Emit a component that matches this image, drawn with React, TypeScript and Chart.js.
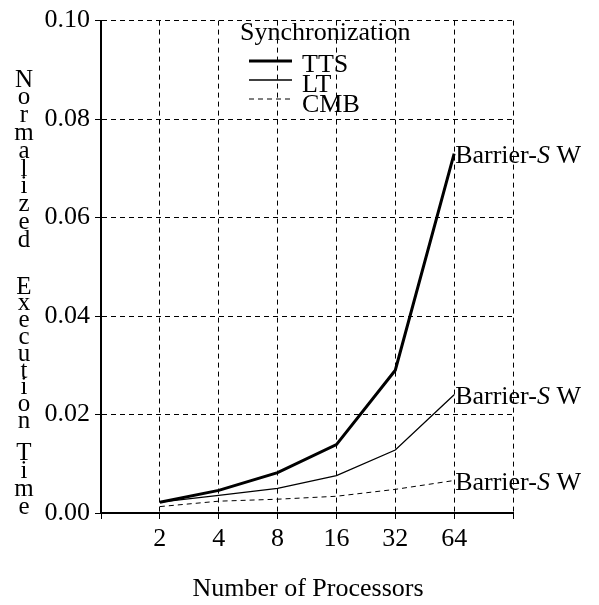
import React, { useEffect, useRef } from "react";
import { Chart, registerables } from "chart.js";

Chart.register(...registerables);

const processors = [2, 4, 8, 16, 32, 64];
const ttsValues = [0.0022, 0.0046, 0.0082, 0.0139, 0.029, 0.073];
const ltValues = [0.0022, 0.0036, 0.005, 0.0076, 0.0128, 0.024];
const cmbValues = [0.0013, 0.0024, 0.0028, 0.0034, 0.0048, 0.0066];
const yTickValues = [0, 0.02, 0.04, 0.06, 0.08, 0.1];
const seriesNames = ["TTS", "LT", "CMB"];
const legendTitle = "Synchronization";
const endLabelParts = ["Barrier-", "S", " W"];
const xTitle = "Number of Processors";
const yTitleWords = ["Normalized", "Execution", "Time"];

const FONT = "'Liberation Serif', 'Times New Roman', serif";

const textPlugin = {
  id: "customText",
  afterDraw(chart: any) {
    const ctx = chart.ctx;
    ctx.save();
    ctx.fillStyle = "#000";
    ctx.strokeStyle = "#000";

    // End labels
    chart.data.datasets.forEach((ds: any, i: number) => {
      const meta = chart.getDatasetMeta(i);
      const pt = meta.data[meta.data.length - 1];
      if (!pt) return;
      let x = pt.x + 1;
      const y = pt.y + 9;
      ctx.textAlign = "left";
      ctx.textBaseline = "alphabetic";
      endLabelParts.forEach((part, k) => {
        ctx.font = (k === 1 ? "italic " : "") + "26px " + FONT;
        ctx.fillText(part, x, y);
        x += ctx.measureText(part).width;
      });
    });

    // Legend
    ctx.font = "26px " + FONT;
    ctx.textAlign = "left";
    ctx.textBaseline = "alphabetic";
    ctx.fillText(legendTitle, 240, 40);
    const lineYs = [61, 80, 99];
    const textYs = [72, 92, 112];
    chart.data.datasets.forEach((ds: any, i: number) => {
      ctx.beginPath();
      ctx.lineWidth = ds.borderWidth;
      ctx.setLineDash(ds.borderDash || []);
      ctx.moveTo(249, lineYs[i]);
      ctx.lineTo(292, lineYs[i]);
      ctx.stroke();
      ctx.setLineDash([]);
      ctx.fillText(seriesNames[i], 302, textYs[i]);
    });

    // X title
    ctx.textAlign = "center";
    ctx.fillText(xTitle, 308, 596);

    // Y title, stacked letters
    ctx.font = "25px " + FONT;
    ctx.textBaseline = "middle";
    const starts = [80, 287, 453];
    const steps = [17.8, 16.8, 18.3];
    yTitleWords.forEach((w, wi) => {
      [...w].forEach((ch, ci) => {
        ctx.fillText(ch, 24, starts[wi] + ci * steps[wi]);
      });
    });
    ctx.restore();
  },
};

export default function App() {
  const canvasRef = useRef<HTMLCanvasElement | null>(null);

  useEffect(() => {
    const canvas = canvasRef.current;
    if (!canvas) return;
    const toPoints = (vals: number[]) =>
      processors.map((p, i) => ({ x: Math.log2(p), y: vals[i] }));

    const chart = new Chart(canvas, {
      type: "line",
      data: {
        datasets: [
          {
            label: seriesNames[0],
            data: toPoints(ttsValues),
            borderColor: "#000",
            borderWidth: 3,
            pointRadius: 0,
            tension: 0,
          },
          {
            label: seriesNames[1],
            data: toPoints(ltValues),
            borderColor: "#000",
            borderWidth: 1.3,
            pointRadius: 0,
            tension: 0,
          },
          {
            label: seriesNames[2],
            data: toPoints(cmbValues),
            borderColor: "#000",
            borderWidth: 1,
            borderDash: [5, 4],
            pointRadius: 0,
            tension: 0,
          },
        ],
      },
      options: {
        animation: false,
        responsive: false,
        layout: { padding: { top: 10, right: 86, left: 0, bottom: 0 } },
        plugins: { legend: { display: false }, tooltip: { enabled: false } },
        scales: {
          x: {
            type: "linear",
            min: 0,
            max: processors.length + 1,
            afterBuildTicks: (scale: any) => {
              const t = [];
              for (let v = 0; v <= processors.length + 1; v++) t.push({ value: v });
              scale.ticks = t;
            },
            afterFit: (scale: any) => {
              scale.height = 92;
            },
            ticks: {
              autoSkip: false,
              maxRotation: 0,
              padding: 5,
              color: "#000",
              font: { family: FONT, size: 26 },
              callback: (v: any) => {
                const i = Number(v) - 1;
                return i >= 0 && i < processors.length ? String(processors[i]) : "";
              },
            },
            grid: {
              color: (c: any) => (c.tick && c.tick.value === 0 ? "rgba(0,0,0,0)" : "#000"),
              lineWidth: 1,
              tickLength: 6,
              tickColor: "#000",
            } as any,
            border: { display: true, color: "#000", width: 2, dash: [5, 4] as any },
          },
          y: {
            min: 0,
            max: 0.1,
            afterBuildTicks: (scale: any) => {
              scale.ticks = yTickValues.map((v) => ({ value: v }));
            },
            afterFit: (scale: any) => {
              scale.width = 101;
            },
            ticks: {
              padding: 5,
              color: "#000",
              font: { family: FONT, size: 26 },
              callback: (v: any) => Number(v).toFixed(2),
            },
            grid: {
              color: (c: any) => (c.tick && c.tick.value === 0 ? "rgba(0,0,0,0)" : "#000"),
              lineWidth: 1,
              tickLength: 6,
              tickColor: "#000",
            } as any,
            border: { display: true, color: "#000", width: 2, dash: [5, 4] as any },
          },
        },
      } as any,
      plugins: [textPlugin],
    });
    return () => chart.destroy();
  }, []);

  return (
    <div style={{ position: "absolute", left: 0, top: 0, width: 599, height: 605, background: "#fff" }}>
      <canvas ref={canvasRef} width={599} height={605} />
    </div>
  );
}
